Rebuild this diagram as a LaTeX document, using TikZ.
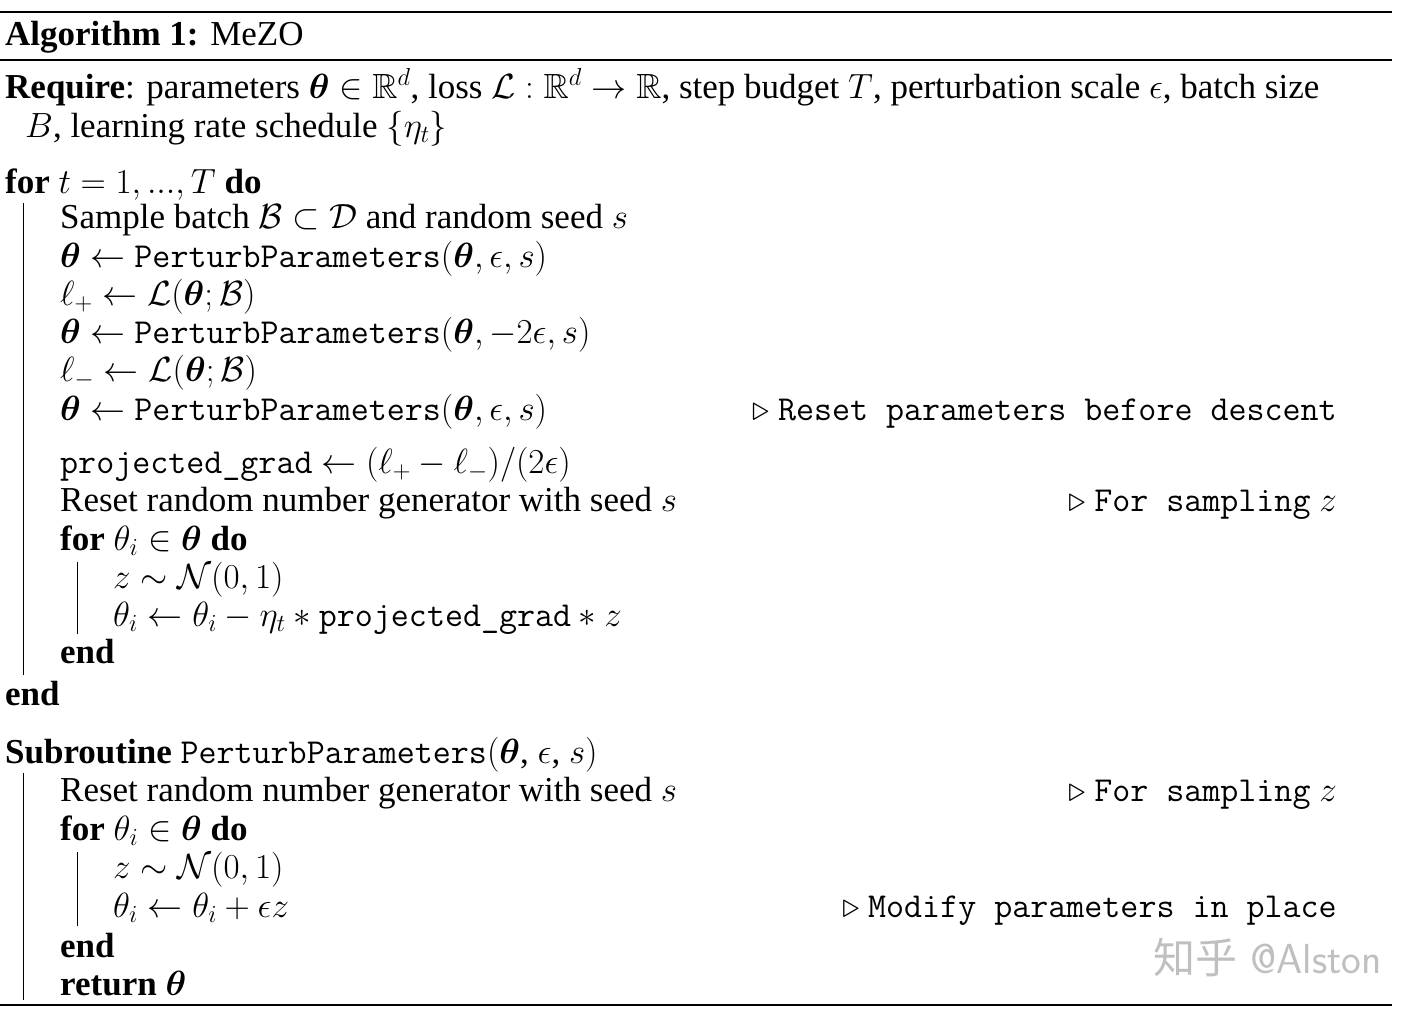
\documentclass[tikz,border=0pt]{standalone}
\usepackage{fix-cm}
\usepackage{amsmath,amssymb,bm}
\usepackage{fontspec}
\setmainfont{Liberation Serif}
\newfontfamily\cjk{Noto Sans CJK SC}
\begin{document}
\begin{tikzpicture}[x=1pt,y=1pt,
  ln/.style={anchor=base west,inner sep=0pt,font=\fontsize{35}{40}\selectfont},
  cmt/.style={anchor=base east,inner sep=0pt,font=\fontsize{35}{40}\selectfont},
  rule/.style={line width=2pt},
  bar/.style={line width=1pt}]
\useasboundingbox (0,0) rectangle (1419,-1017);
\newcommand{\tb}{\bm{\theta}}
\newcommand{\PP}{\texttt{PerturbParameters}}
\draw[rule] (0,-12) -- (1392,-12);
\draw[line width=1.2pt] (0,-60) -- (1392,-60);
\draw[rule] (0,-1005) -- (1392,-1005);
\node[ln] (title) at (5,-45) {\textbf{Algorithm 1:} MeZO};
\node[ln] (req1) at (5,-98) {\textbf{Require}: parameters $\tb\in\mathbb{R}^d$, loss $\mathcal{L}:\mathbb{R}^d\to\mathbb{R}$, step budget $T$, perturbation scale $\epsilon$, batch size};
\node[ln] (req2) at (25,-137) {$B$, learning rate schedule $\{\eta_t\}$};
\node[ln] (for1) at (5,-193) {\textbf{for} $t=1,...,T$ \textbf{do}};
\node[ln] (l1) at (60,-228) {Sample batch $\mathcal{B}\subset\mathcal{D}$ and random seed $s$};
\node[ln] (l2) at (60,-267) {$\tb\leftarrow$ \PP$(\tb,\epsilon,s)$};
\node[ln] (l3) at (60,-305) {$\ell_+\leftarrow\mathcal{L}(\tb;\mathcal{B})$};
\node[ln] (l4) at (60,-343) {$\tb\leftarrow$ \PP$(\tb,-2\epsilon,s)$};
\node[ln] (l5) at (60,-381) {$\ell_-\leftarrow\mathcal{L}(\tb;\mathcal{B})$};
\node[ln] (l6) at (60,-420) {$\tb\leftarrow$ \PP$(\tb,\epsilon,s)$};
\node[cmt] (c6) at (1337,-420) {$\triangleright$\ \texttt{Reset parameters before descent}};
\node[ln] (l7) at (60,-473) {\texttt{projected\_grad} $\leftarrow(\ell_+-\ell_-)/(2\epsilon)$};
\node[ln] (l8) at (60,-511) {Reset random number generator with seed $s$};
\node[cmt] (c8) at (1337,-511) {$\triangleright$\ \texttt{For sampling} $z$};
\node[ln] (l9) at (60,-550) {\textbf{for} $\theta_i\in\tb$ \textbf{do}};
\node[ln] (l10) at (113,-588) {$z\sim\mathcal{N}(0,1)$};
\node[ln] (l11) at (113,-626) {$\theta_i\leftarrow\theta_i-\eta_t*\texttt{projected\_grad}*z$};
\node[ln] (l12) at (60,-663) {\textbf{end}};
\node[ln] (l13) at (5,-705) {\textbf{end}};
\node[ln] (s0) at (5,-763) {\textbf{Subroutine} \PP$(\tb$, $\epsilon$, $s)$};
\node[ln] (s1) at (60,-801) {Reset random number generator with seed $s$};
\node[cmt] (cs1) at (1337,-801) {$\triangleright$\ \texttt{For sampling} $z$};
\node[ln] (s2) at (60,-840) {\textbf{for} $\theta_i\in\tb$ \textbf{do}};
\node[ln] (s3) at (113,-878) {$z\sim\mathcal{N}(0,1)$};
\node[ln] (s4) at (113,-917) {$\theta_i\leftarrow\theta_i+\epsilon z$};
\node[cmt] (cs4) at (1337,-917) {$\triangleright$\ \texttt{Modify parameters in place}};
\node[ln] (s5) at (60,-957) {\textbf{end}};
\node[ln] (s6) at (60,-995) {\textbf{return} $\tb$};
\draw[bar] (23,-203) -- (23,-675);
\draw[bar] (77,-562) -- (77,-634);
\draw[bar] (23,-773) -- (23,-1000);
\draw[bar] (77,-852) -- (77,-926);
\node[anchor=base east,inner sep=0pt,text=black!25,font=\fontsize{42}{44}\selectfont\sffamily] (wm) at (1382,-973) {{\cjk 知乎} @Alston};
\end{tikzpicture}
\end{document}
